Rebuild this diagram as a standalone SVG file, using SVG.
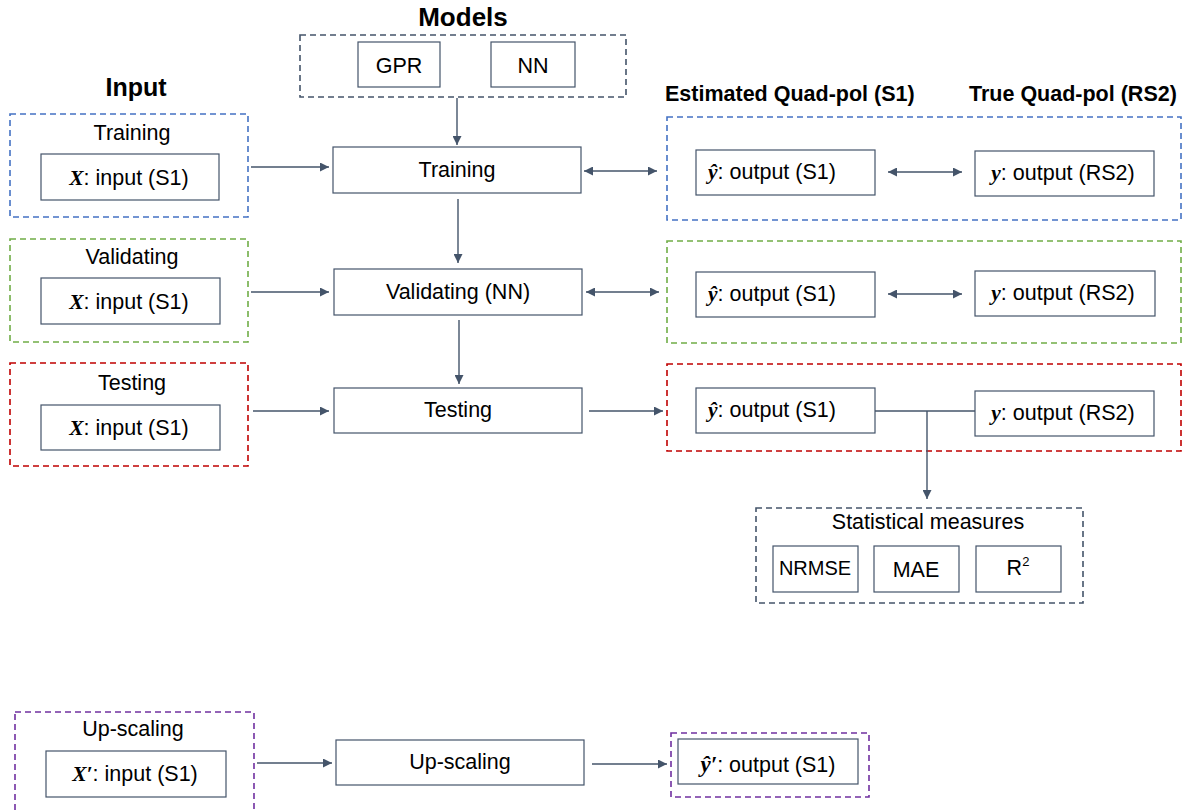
<svg xmlns="http://www.w3.org/2000/svg" width="1184" height="812" viewBox="0 0 1184 812">
<style>
text{font-family:"Liberation Sans","Noto Sans",sans-serif;fill:#000}
.t{font-size:21.5px;text-anchor:middle}
.h{font-size:21.5px;font-weight:bold}
.big{font-size:26px;text-anchor:middle}
.box{fill:#fff;stroke:#44546A;stroke-width:1.2}
.dash{fill:none;stroke-width:1.6;stroke-dasharray:6 4}
.blue{stroke:#4472C4}.green{stroke:#70AD47}.red{stroke:#C00000}.purple{stroke:#7030A0}.grey{stroke:#44546A}
.v{font-family:"Liberation Serif",serif;font-weight:bold;font-style:italic}
.c{fill:none;stroke:#44546A;stroke-width:1.4}
</style>
<defs>
<marker id="ah" viewBox="0 0 10 10" refX="10" refY="5" markerWidth="9" markerHeight="9" markerUnits="userSpaceOnUse" orient="auto-start-reverse"><path d="M0,0 L10,5 L0,10 z" fill="#44546A"/></marker>
</defs>
<g id="titles">
<text class="h big" x="463" y="26">Models</text>
<text class="h big" x="136" y="96" style="font-size:25px">Input</text>
<text class="h" x="665" y="101">Estimated Quad-pol (S1)</text>
<text class="h" x="969" y="101">True Quad-pol (RS2)</text>
</g>
<g id="models">
<rect class="dash grey" x="300" y="35" width="326" height="62"/>
<g id="gpr"><rect class="box" x="358" y="42" width="82" height="45"/><text class="t" x="399" y="73">GPR</text></g>
<g id="nn"><rect class="box" x="491" y="42" width="84" height="45"/><text class="t" x="533" y="73">NN</text></g>
</g>
<g id="in-training">
<rect class="dash blue" x="10" y="114" width="238" height="103"/>
<text class="t" x="132" y="140">Training</text>
<rect class="box" x="41" y="154" width="178" height="46"/>
<text class="t" x="129" y="185"><tspan class="v">X</tspan>: input (S1)</text>
</g>
<g id="in-validating">
<rect class="dash green" x="10" y="239" width="238" height="103"/>
<text class="t" x="132" y="264">Validating</text>
<rect class="box" x="41" y="278" width="179" height="46"/>
<text class="t" x="129" y="309"><tspan class="v">X</tspan>: input (S1)</text>
</g>
<g id="in-testing">
<rect class="dash red" x="10" y="363" width="238" height="103"/>
<text class="t" x="132" y="390">Testing</text>
<rect class="box" x="41" y="405" width="179" height="45"/>
<text class="t" x="129" y="435"><tspan class="v">X</tspan>: input (S1)</text>
</g>
<g id="training"><rect class="box" x="333" y="147" width="248" height="46"/><text class="t" x="457" y="177">Training</text></g>
<g id="validating"><rect class="box" x="334" y="269" width="248" height="46"/><text class="t" x="458" y="299">Validating (NN)</text></g>
<g id="testing"><rect class="box" x="334" y="388" width="248" height="45"/><text class="t" x="458" y="417">Testing</text></g>
<g id="out-training">
<rect class="dash blue" x="667" y="117" width="514" height="103"/>
<rect class="box" x="696" y="150" width="179" height="45"/>
<text class="t" x="772" y="179"><tspan class="v">ŷ</tspan>: output (S1)</text>
<rect class="box" x="975" y="151" width="179" height="45"/>
<text class="t" x="1063" y="180"><tspan class="v">y</tspan>: output (RS2)</text>
</g>
<g id="out-validating">
<rect class="dash green" x="667" y="241" width="514" height="102"/>
<rect class="box" x="696" y="272" width="179" height="45"/>
<text class="t" x="772" y="301"><tspan class="v">ŷ</tspan>: output (S1)</text>
<rect class="box" x="975" y="271" width="180" height="45"/>
<text class="t" x="1063" y="300"><tspan class="v">y</tspan>: output (RS2)</text>
</g>
<g id="out-testing">
<rect class="dash red" x="667" y="364" width="514" height="87"/>
<rect class="box" x="696" y="388" width="179" height="45"/>
<text class="t" x="772" y="417"><tspan class="v">ŷ</tspan>: output (S1)</text>
<rect class="box" x="975" y="391" width="179" height="45"/>
<text class="t" x="1063" y="420"><tspan class="v">y</tspan>: output (RS2)</text>
</g>
<g id="statistical-measures">
<rect class="dash grey" x="756" y="508" width="327" height="95"/>
<text class="t" x="928" y="529">Statistical measures</text>
<g id="nrmse"><rect class="box" x="773" y="546" width="85" height="46"/><text class="t" x="815" y="575" style="font-size:20px">NRMSE</text></g>
<g id="mae"><rect class="box" x="874" y="546" width="85" height="46"/><text class="t" x="916" y="577">MAE</text></g>
<g id="r2"><rect class="box" x="976" y="546" width="85" height="46"/><text class="t" x="1018" y="575">R<tspan font-size="13" dy="-9">2</tspan></text></g>
</g>
<g id="in-upscaling">
<rect class="dash purple" x="15" y="712" width="239" height="110"/>
<text class="t" x="133" y="736">Up-scaling</text>
<rect class="box" x="46" y="751" width="180" height="46"/>
<text class="t" x="135" y="781"><tspan class="v">X′</tspan>: input (S1)</text>
</g>
<g id="upscaling"><rect class="box" x="336" y="740" width="248" height="45"/><text class="t" x="460" y="769">Up-scaling</text></g>
<g id="out-upscaling">
<rect class="dash purple" x="671" y="733" width="198" height="64"/>
<rect class="box" x="678" y="739" width="180" height="45"/>
<text class="t" x="768" y="772"><tspan class="v" font-size="23">ŷ′</tspan>: output (S1)</text>
</g>
<g id="connectors">
<line class="c" x1="457" y1="98" x2="457" y2="145" marker-end="url(#ah)"/>
<line class="c" x1="251" y1="167" x2="329" y2="167" marker-end="url(#ah)"/>
<line class="c" x1="251" y1="292" x2="329" y2="292" marker-end="url(#ah)"/>
<line class="c" x1="253" y1="411" x2="329" y2="411" marker-end="url(#ah)"/>
<line class="c" x1="458" y1="199" x2="458" y2="263" marker-end="url(#ah)"/>
<line class="c" x1="459" y1="320" x2="459" y2="384" marker-end="url(#ah)"/>
<line class="c" x1="584" y1="171" x2="657" y2="171" marker-start="url(#ah)" marker-end="url(#ah)"/>
<line class="c" x1="586" y1="292" x2="659" y2="292" marker-start="url(#ah)" marker-end="url(#ah)"/>
<line class="c" x1="589" y1="411" x2="663" y2="411" marker-end="url(#ah)"/>
<line class="c" x1="888" y1="172" x2="962" y2="172" marker-start="url(#ah)" marker-end="url(#ah)"/>
<line class="c" x1="888" y1="294" x2="962" y2="294" marker-start="url(#ah)" marker-end="url(#ah)"/>
<polyline class="c" points="875,411 975,411"/>
<line class="c" x1="927" y1="411" x2="927" y2="499" marker-end="url(#ah)"/>
<line class="c" x1="257" y1="763" x2="332" y2="763" marker-end="url(#ah)"/>
<line class="c" x1="592" y1="764" x2="667" y2="764" marker-end="url(#ah)"/>
</g>
</svg>
